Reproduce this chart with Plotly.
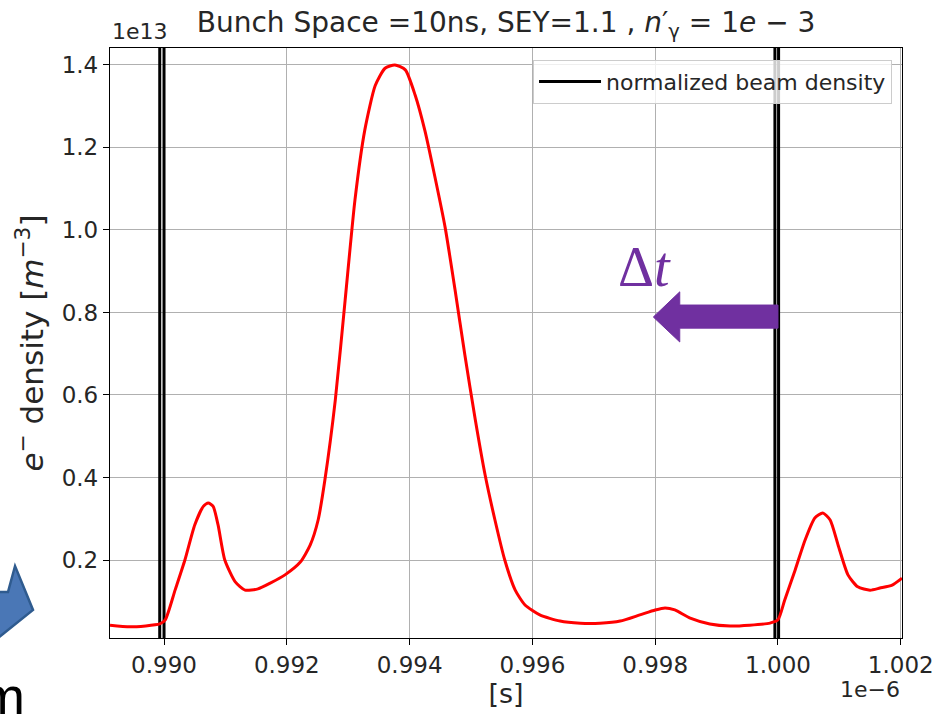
import plotly.graph_objects as go

# ---------------- data ----------------
# time in units of 1e-6 s, electron density in units of 1e13 m^-3
t_e = [0.98912, 0.98945, 0.98993, 0.99002, 0.99018, 0.99034, 0.99050, 0.99064,
       0.99072, 0.99080, 0.99088, 0.99099, 0.99116, 0.99132, 0.99153, 0.99173,
       0.99197, 0.99222, 0.99238, 0.99251, 0.99262, 0.99279, 0.99295, 0.99311,
       0.99327, 0.99344, 0.99360, 0.99376, 0.99393, 0.99409, 0.99425, 0.99441,
       0.99458, 0.99474, 0.99490, 0.99507, 0.99523, 0.99539, 0.99555, 0.99572,
       0.99588, 0.99612, 0.99645, 0.99678, 0.99710, 0.99743, 0.99775, 0.99800,
       0.99816, 0.99832, 0.99857, 0.99889, 0.99922, 0.99954, 0.99987, 1.00000,
       1.00011, 1.00028, 1.00044, 1.00060, 1.00073, 1.00085, 1.00098, 1.00114,
       1.00130, 1.00150, 1.00166, 1.00186, 1.00202]
n_e = [0.042, 0.038, 0.045, 0.055, 0.127, 0.200, 0.285, 0.330,
       0.338, 0.330, 0.285, 0.200, 0.147, 0.127, 0.130, 0.144,
       0.164, 0.195, 0.236, 0.297, 0.394, 0.588, 0.830, 1.073,
       1.242, 1.350, 1.392, 1.400, 1.388, 1.327, 1.240, 1.130,
       1.005, 0.855, 0.697, 0.540, 0.406, 0.297, 0.200, 0.127,
       0.091, 0.067, 0.052, 0.047, 0.047, 0.052, 0.067, 0.079,
       0.084, 0.079, 0.059, 0.045, 0.040, 0.042, 0.047, 0.055,
       0.103, 0.176, 0.248, 0.302, 0.314, 0.297, 0.236, 0.164,
       0.135, 0.127, 0.132, 0.139, 0.156]

# normalized beam density (very narrow bunches, off-scale peaks)
t_beam = [0.98912, 0.98993, 0.98994, 0.98999, 0.99000, 0.99995, 0.99996, 1.00000, 1.00001, 1.00202]
n_beam = [0.0, 0.0, 100.0, 100.0, 0.0, 0.0, 100.0, 100.0, 0.0, 0.0]

x_ticks = [0.990, 0.992, 0.994, 0.996, 0.998, 1.000, 1.002]
x_ticklabels = ["0.990", "0.992", "0.994", "0.996", "0.998", "1.000", "1.002"]
y_ticks = [0.2, 0.4, 0.6, 0.8, 1.0, 1.2, 1.4]
y_ticklabels = ["0.2", "0.4", "0.6", "0.8", "1.0", "1.2", "1.4"]

x_range = [0.98912, 1.00202]
y_range = [0.011, 1.441]

# ---------------- figure ----------------
FONT = "DejaVu Sans"
TXT = "#262626"
PURPLE = "#7030A0"

fig = go.Figure()
fig.add_trace(go.Scatter(x=t_beam, y=n_beam, mode="lines", name="normalized beam density",
                         line=dict(color="black", width=3), showlegend=True))
fig.add_trace(go.Scatter(x=t_e, y=n_e, mode="lines",
                         line=dict(color="red", width=3, shape="spline", smoothing=0.6),
                         showlegend=False))

# purple arrow (decoration) pointing left from the second bunch
tip_x, base_x, tail_x = 0.99797, 0.99840, 1.00000
tip_y, head_top, head_bot, body_top, body_bot = 0.789, 0.850, 0.7285, 0.818, 0.762
arrow_path = (f"M {tail_x} {body_top} L {base_x} {body_top} L {base_x} {head_top} "
              f"L {tip_x} {tip_y} L {base_x} {head_bot} L {base_x} {body_bot} L {tail_x} {body_bot} Z")
fig.add_shape(type="path", path=arrow_path, xref="x", yref="y",
              fillcolor=PURPLE, line=dict(color=PURPLE, width=1), layer="above")

fig.add_annotation(x=0.99783, y=0.91, xref="x", yref="y", text="Δ<i>t</i>", showarrow=False,
                   font=dict(family="Liberation Serif", size=56, color=PURPLE))

# offset texts
fig.add_annotation(x=0, y=1.004, xref="paper", yref="paper", text="1e13", showarrow=False,
                   xanchor="left", yanchor="bottom", font=dict(family=FONT, size=22, color=TXT))
fig.add_annotation(x=1, y=-0.088, xref="paper", yref="paper", text="1e−6", showarrow=False,
                   xanchor="right", yanchor="middle", font=dict(family=FONT, size=22, color=TXT))

# slide fragments at bottom left (blue block arrow and text)
blue_path = "M -0.16 0.078 L -0.1288 0.078 L -0.1199 0.122 L -0.0972 0.0475 L -0.16 -0.02 Z"
fig.add_shape(type="path", path=blue_path, xref="paper", yref="paper",
              fillcolor="#4A77B6", line=dict(color="#2F5B8F", width=2.5))
fig.add_annotation(x=-0.1045, y=-0.153, xref="paper", yref="paper", text="m", showarrow=False,
                   xanchor="right", yanchor="bottom",
                   font=dict(family="Liberation Sans", size=54, color="black"))

fig.update_layout(
    width=934, height=714,
    margin=dict(l=110, r=32, t=48, b=76, autoexpand=False),
    paper_bgcolor="white", plot_bgcolor="white",
    font=dict(family=FONT, color=TXT),
    title=dict(text="Bunch Space =10ns, SEY=1.1 , <i>n</i>′<sub>γ</sub> = 1<i>e</i> − 3",
               x=0.5418, xanchor="center", y=0.969, yanchor="middle",
               font=dict(family=FONT, size=28, color=TXT)),
    showlegend=True,
    legend=dict(x=0.9874, y=0.98, xanchor="right", yanchor="top",
                bgcolor="rgba(255,255,255,0.8)", bordercolor="#cccccc", borderwidth=1,
                font=dict(family=FONT, size=22, color=TXT), itemwidth=62),
)
fig.update_xaxes(range=x_range, tickvals=x_ticks, ticktext=x_ticklabels, automargin=False,
                 showgrid=True, gridcolor="#b0b0b0", gridwidth=1,
                 showline=True, linecolor="black", linewidth=1.3, mirror=True,
                 ticks="outside", ticklen=6, tickcolor="black", tickwidth=1.3,
                 tickfont=dict(family=FONT, size=23, color=TXT), zeroline=False,
                 title=dict(text="[s]", font=dict(family=FONT, size=27, color=TXT), standoff=0))
fig.update_yaxes(range=y_range, tickvals=y_ticks, ticktext=y_ticklabels, automargin=False,
                 showgrid=True, gridcolor="#b0b0b0", gridwidth=1,
                 showline=True, linecolor="black", linewidth=1.3, mirror=True,
                 ticks="outside", ticklen=6, tickcolor="black", tickwidth=1.3,
                 tickfont=dict(family=FONT, size=23, color=TXT), zeroline=False,
                 title=dict(text="<i>e</i><sup>−</sup> density [<i>m</i><sup>−3</sup>]",
                            font=dict(family=FONT, size=31, color=TXT), standoff=8))

fig.write_html("out.html")
